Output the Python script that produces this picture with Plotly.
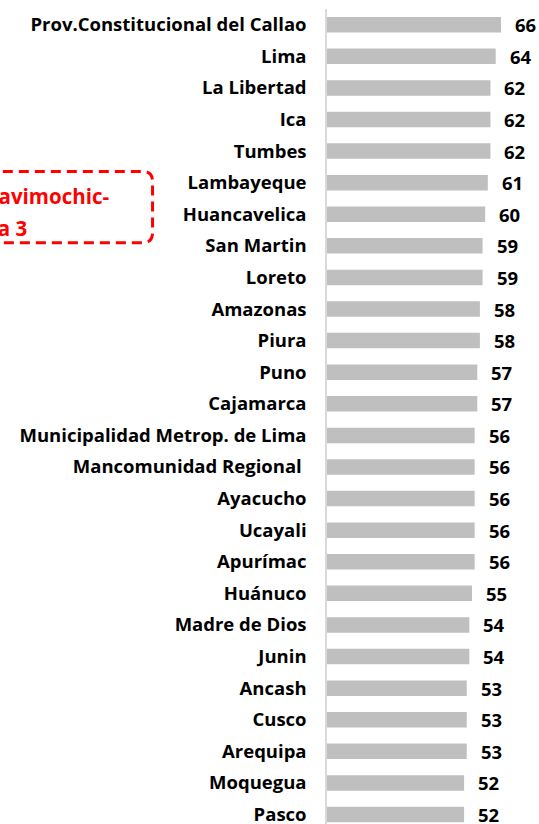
import plotly.graph_objects as go

regions = ["Prov.Constitucional del Callao", "Lima", "La Libertad", "Ica", "Tumbes",
           "Lambayeque", "Huancavelica", "San Martin", "Loreto", "Amazonas", "Piura",
           "Puno", "Cajamarca", "Municipalidad Metrop. de Lima", "Mancomunidad Regional\u00a0",
           "Ayacucho", "Ucayali", "Apurímac", "Huánuco", "Madre de Dios", "Junin",
           "Ancash", "Cusco", "Arequipa", "Moquegua", "Pasco"]
scores = [66, 64, 62, 62, 62, 61, 60, 59, 59, 58, 58, 57, 57, 56, 56, 56, 56, 56, 55,
          54, 54, 53, 53, 53, 52, 52]
score_labels = [str(v) for v in scores]
box_lines = ["Chavimochic-", "Etapa 3"]

W, H = 539, 824
ML, MR, MT, MB = 326.7, 0, 9.3, 0
PW, PH = W - ML - MR, H - MT - MB
PX_PER_UNIT = 2.64
FIRST_C, LAST_C = 25.0, 814.5
n = len(regions)
ROW = (LAST_C - FIRST_C) / (n - 1)

def px(x):
    return (x - ML) / PW

def py(y):
    return (H - MB - y) / PH

FONT = "Open Sans"
FS = 18.5

fig = go.Figure()
fig.add_trace(go.Bar(
    x=scores, y=regions, orientation="h", width=15.5 / ROW,
    marker=dict(color="#bfbfbf", line=dict(width=0)),
    hoverinfo="skip",
))

for r, v, t in zip(regions, scores, score_labels):
    fig.add_annotation(x=v, y=r, xref="x", yref="y", text=t, showarrow=False,
                       xanchor="left", yanchor="middle", xshift=12,
                       font=dict(family=FONT, size=FS, color="#000000", weight="bold"))

# dashed rounded box
x0, x1, y0, y1, rad = -30, 152, 171.7, 243, 10
rx = rad / PW
ry = rad / PH
X0, X1, Y0, Y1 = px(x0), px(x1), py(y0), py(y1)
path = (f"M {X0},{Y0} L {X1-rx},{Y0} Q {X1},{Y0} {X1},{Y0-ry} "
        f"L {X1},{Y1+ry} Q {X1},{Y1} {X1-rx},{Y1} L {X0},{Y1}")
fig.add_shape(type="path", path=path, xref="paper", yref="paper",
              line=dict(color="#ff0000", width=3, dash="10px,6px"))

for line_text, xr, yc in zip(box_lines, [110, 28], [196, 228]):
    fig.add_annotation(x=px(xr), y=py(yc), xref="paper", yref="paper", text=line_text,
                       showarrow=False, xanchor="right", yanchor="middle",
                       font=dict(family=FONT, size=20.5, color="#ff0000", weight="bold"))

top_val = -(FIRST_C - MT) / ROW
bot_val = top_val + PH / ROW

fig.update_layout(
    width=W, height=H,
    margin=dict(l=ML, r=MR, t=MT, b=MB, pad=0, autoexpand=False),
    paper_bgcolor="white", plot_bgcolor="white",
    showlegend=False,
    xaxis=dict(range=[0, PW / PX_PER_UNIT], visible=False, fixedrange=True,
               automargin=False),
    yaxis=dict(categoryorder="array", categoryarray=regions,
               range=[bot_val, top_val], automargin=False,
               showline=True, linecolor="#d9d9d9", linewidth=1.5,
               showgrid=False, zeroline=False, ticks="", ticklabelstandoff=15,
               tickfont=dict(family=FONT, size=FS, color="#000000", weight="bold"),
               fixedrange=True),
)

fig.write_html("out.html", config={"displayModeBar": False},
               post_script="document.body.style.margin='0';document.body.style.overflow='hidden';")
